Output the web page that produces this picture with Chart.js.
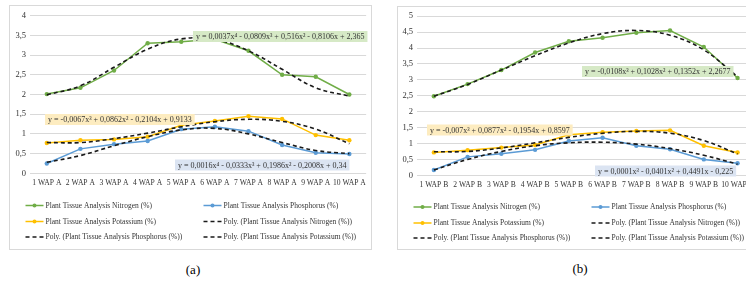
<!DOCTYPE html>
<html>
<head>
<meta charset="utf-8">
<script src="https://cdn.jsdelivr.net/npm/chart.js@4"></script>
<style>
  html, body { margin: 0; padding: 0; background: #fff; overflow: hidden; }
  body { width: 746px; height: 283px; position: relative; }
  .panel { position: absolute; border: 1px solid #d9d9d9; box-sizing: border-box; background: #fff; }
  .panel canvas { position: absolute; left: 0; top: 0; }
  .cap { position: absolute; font-family: 'Liberation Serif', serif; font-size: 13px; color: #000; transform: translateX(-50%); }
</style>
</head>
<body>
<div class="panel" style="left:9px; top:5px; width:363px; height:245px;"><canvas id="chartA" width="361" height="243"></canvas></div>
<div class="panel" style="left:397px; top:6px; width:363px; height:244px;"><canvas id="chartB" width="361" height="242"></canvas></div>
<div class="cap" style="left:193px; top:262px;">(a)</div>
<div class="cap" style="left:580px; top:261px;">(b)</div>
<script>
  const seriesNames = [
    'Plant Tissue Analysis Nitrogen (%)',
    'Plant Tissue Analysis Phosphorus (%)',
    'Plant Tissue Analysis Potassium (%)',
    'Poly. (Plant Tissue Analysis Nitrogen (%))',
    'Poly. (Plant Tissue Analysis Phosphorus (%))',
    'Poly. (Plant Tissue Analysis Potassium (%))'
  ];

  // panel (a)
  const categoriesA = ['1 WAP A', '2 WAP A', '3 WAP A', '4 WAP A', '5 WAP A', '6 WAP A', '7 WAP A', '8 WAP A', '9 WAP A', '10 WAP A'];
  const nitrogenA = [2.01, 2.17, 2.61, 3.30, 3.34, 3.40, 3.11, 2.50, 2.45, 2.00];
  const phosphorusA = [0.25, 0.62, 0.74, 0.82, 1.12, 1.18, 1.07, 0.72, 0.52, 0.49];
  const potassiumA = [0.77, 0.84, 0.86, 0.93, 1.22, 1.33, 1.45, 1.38, 0.97, 0.84];
  const nitrogenTrendA = [1.99, 2.22, 2.69, 3.15, 3.41, 3.40, 3.11, 2.64, 2.17, 1.96];
  const phosphorusTrendA = [0.28, 0.45, 0.70, 0.93, 1.10, 1.14, 1.00, 0.78, 0.58, 0.50];
  const potassiumTrendA = [0.78, 0.78, 0.88, 1.02, 1.18, 1.31, 1.37, 1.32, 1.12, 0.75];
  const yTicksA = ['0', '0,5', '1', '1,5', '2', '2,5', '3', '3,5', '4'];

  // panel (b)
  const categoriesB = ['1 WAP B', '2 WAP B', '3 WAP B', '4 WAP B', '5 WAP B', '6 WAP B', '7 WAP B', '8 WAP B', '9 WAP B', '10 WAP B'];
  const nitrogenB = [2.49, 2.87, 3.31, 3.86, 4.21, 4.32, 4.48, 4.55, 4.03, 3.06];
  const phosphorusB = [0.18, 0.59, 0.69, 0.81, 1.09, 1.19, 0.94, 0.83, 0.51, 0.39];
  const potassiumB = [0.73, 0.80, 0.88, 0.96, 1.28, 1.36, 1.40, 1.42, 0.94, 0.73];
  const nitrogenTrendB = [2.49, 2.86, 3.31, 3.76, 4.16, 4.45, 4.55, 4.40, 3.94, 3.10];
  const phosphorusTrendB = [0.18, 0.51, 0.76, 0.94, 1.03, 1.05, 0.99, 0.85, 0.64, 0.36];
  const potassiumTrendB = [0.75, 0.76, 0.87, 1.03, 1.20, 1.33, 1.39, 1.33, 1.10, 0.68];
  const yTicksB = ['0', '0,5', '1', '1,5', '2', '2,5', '3', '3,5', '4', '4,5', '5'];

  const colors = ['#70ad47', '#5b9bd5', '#ffc000'];
  const FONT = 'Liberation Serif';

  // trendline equations, drawn as boxes on top of the plot
  const equationsA = [
    { text: 'y = 0,0037x⁴ - 0,0809x³ + 0,516x² - 0,8106x + 2,365', x: 183, y: 30.5, bg: '#d6e9c6' },
    { text: 'y = -0,0067x³ + 0,0862x² - 0,2104x + 0,9133', x: 35, y: 113.5, bg: '#fdecc0' },
    { text: 'y = 0,0016x⁴ - 0,0333x³ + 0,1986x² - 0,2008x + 0,34', x: 165, y: 159, bg: '#dbe4f2' }
  ];
  const equationsB = [
    { text: 'y = -0,0108x³ + 0,1028x² + 0,1352x + 2,2677', x: 184, y: 64.5, bg: '#d6e9c6' },
    { text: 'y = -0,007x³ + 0,0877x² - 0,1954x + 0,8597', x: 29, y: 123, bg: '#fdecc0' },
    { text: 'y = 0,0001x³ - 0,0401x² + 0,4491x - 0,225', x: 197, y: 164, bg: '#dbe4f2' }
  ];

  const equationPlugin = {
    id: 'equations',
    afterDatasetsDraw(chart, args, opts) {
      const ctx = chart.ctx;
      ctx.save();
      ctx.font = '8px "' + FONT + '"';
      ctx.textBaseline = 'middle';
      opts.items.forEach(it => {
        const w = ctx.measureText(it.text).width + 6;
        ctx.fillStyle = it.bg;
        ctx.fillRect(it.x, it.y - 5.5, w, 11);
        ctx.fillStyle = '#333333';
        ctx.fillText(it.text, it.x + 3, it.y + 0.5);
      });
      ctx.restore();
    }
  };

  // two-column legend below the plot
  const legendPlugin = {
    id: 'legend2col',
    afterDraw(chart, args, opts) {
      const ctx = chart.ctx;
      ctx.save();
      ctx.font = '7.5px "' + FONT + '"';
      ctx.textBaseline = 'middle';
      chart.data.datasets.forEach((ds, i) => {
        const col = i % 2, row = Math.floor(i / 2);
        const x0 = opts.cols[col], y = opts.rows[row];
        ctx.strokeStyle = ds.borderColor;
        ctx.lineWidth = 1.5;
        ctx.setLineDash(ds.borderDash || []);
        ctx.beginPath();
        ctx.moveTo(x0, y);
        ctx.lineTo(x0 + 18, y);
        ctx.stroke();
        ctx.setLineDash([]);
        if (!ds.borderDash) {
          ctx.fillStyle = ds.borderColor;
          ctx.beginPath();
          ctx.arc(x0 + 9, y, 2, 0, Math.PI * 2);
          ctx.fill();
        }
        ctx.fillStyle = '#333333';
        ctx.fillText(ds.label, x0 + 20, y + 0.5);
      });
      ctx.restore();
    }
  };

  function makeChart(id, labels, values, trends, yTicks, yMax, box, equations, legendRows) {
    const datasets = values.map((v, i) => ({
      label: seriesNames[i],
      data: v,
      borderColor: colors[i],
      backgroundColor: colors[i],
      borderWidth: 1.5,
      pointRadius: 2.2,
      pointBorderWidth: 0,
      tension: 0,
      order: 1
    })).concat(trends.map((v, i) => ({
      label: seriesNames[i + 3],
      data: v,
      borderColor: '#1a1a1a',
      borderWidth: 1.6,
      borderDash: [4, 3],
      pointRadius: 0,
      tension: 0.4,
      order: 0
    })));

    return new Chart(document.getElementById(id), {
      type: 'line',
      data: { labels: labels, datasets: datasets },
      plugins: [equationPlugin, legendPlugin],
      options: {
        responsive: false,
        animation: false,
        layout: { padding: { left: 0, top: box.top, right: box.right, bottom: box.bottom } },
        plugins: {
          legend: { display: false },
          tooltip: { enabled: false },
          equations: { items: equations },
          legend2col: { cols: [15.5, 193.5], rows: legendRows }
        },
        scales: {
          x: {
            offset: true,
            grid: { display: false, drawTicks: false },
            border: { display: false },
            ticks: {
              autoSkip: false, maxRotation: 0, padding: 5,
              color: '#333333',
              font: { family: FONT, size: 7.6 }
            },
            afterFit: function(scale) { scale.height = 16; }
          },
          y: {
            min: 0, max: yMax,
            grid: { color: '#d9d9d9', lineWidth: 1, drawTicks: false },
            border: { display: false },
            ticks: {
              stepSize: 0.5, padding: 4,
              color: '#333333',
              font: { family: FONT, size: 8.5 },
              callback: function(value, index) { return yTicks[index]; }
            },
            afterFit: function(scale) { scale.width = box.left; }
          }
        }
      }
    });
  }

  makeChart('chartA', categoriesA,
    [nitrogenA, phosphorusA, potassiumA],
    [nitrogenTrendA, phosphorusTrendA, potassiumTrendA],
    yTicksA, 4,
    { left: 20, top: 9.7, right: 4, bottom: 243 - 167.3 - 16 },
    equationsA, [199.5, 215.5, 231]);

  makeChart('chartB', categoriesB,
    [nitrogenB, phosphorusB, potassiumB],
    [nitrogenTrendB, phosphorusTrendB, potassiumTrendB],
    yTicksB, 5,
    { left: 19, top: 8.7, right: 4, bottom: 242 - 168.7 - 16 },
    equationsB, [200, 216, 231]);
</script>
</body>
</html>
